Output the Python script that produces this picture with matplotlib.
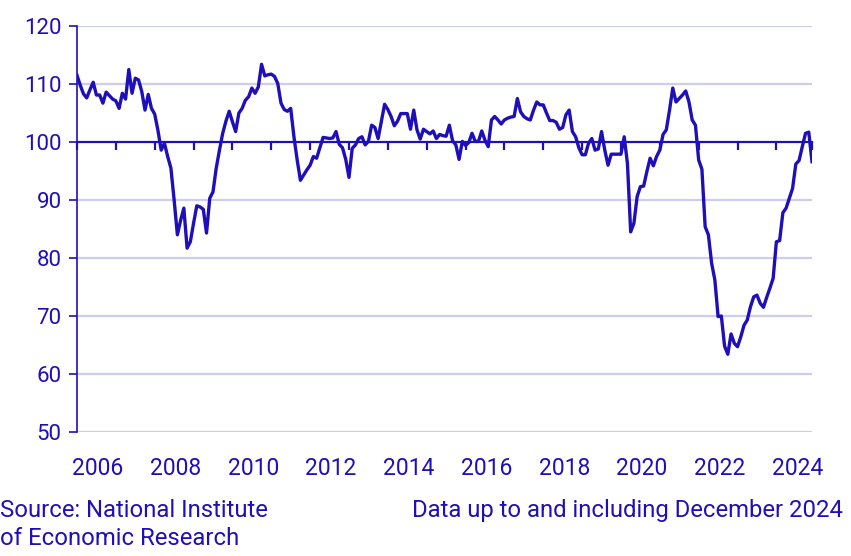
import numpy as np
import matplotlib
matplotlib.use("Agg")
import matplotlib.pyplot as plt

# Monthly index, Jan 2006 - Dec 2024
Y2006 = [111.5, 109.8, 108.3, 107.6, 109.0, 110.3, 108.1, 108.1, 106.7, 108.6, 108.0, 107.4]
Y2007 = [107.1, 105.8, 108.4, 107.4, 112.5, 108.4, 111.0, 110.7, 108.7, 105.5, 108.2, 105.8]
Y2008 = [104.8, 102.0, 98.6, 99.8, 97.5, 95.5, 90.0, 84.0, 86.5, 88.6, 81.7, 82.8]
Y2009 = [86.0, 89.0, 88.8, 88.4, 84.3, 90.3, 91.4, 95.5, 98.6, 101.5, 103.6, 105.3]
Y2010 = [103.5, 101.8, 105.0, 105.8, 107.2, 107.8, 109.3, 108.4, 109.5, 113.4, 111.4, 111.6]
Y2011 = [111.7, 111.3, 110.1, 106.7, 105.6, 105.3, 105.8, 100.9, 96.9, 93.4, 94.3, 95.2]
Y2012 = [96.0, 97.5, 97.2, 99.0, 100.8, 100.7, 100.6, 100.7, 101.8, 99.6, 99.0, 97.0]
Y2013 = [93.9, 98.9, 99.5, 100.6, 100.9, 99.5, 100.1, 102.9, 102.5, 100.6, 103.5, 106.5]
Y2014 = [105.6, 104.4, 102.8, 103.6, 104.9, 104.9, 104.9, 102.2, 105.5, 102.1, 100.5, 102.2]
Y2015 = [101.8, 101.4, 101.9, 100.6, 101.3, 101.1, 101.0, 102.9, 100.2, 99.5, 97.0, 100.1]
Y2016 = [99.4, 99.9, 101.5, 100.1, 100.1, 101.9, 100.3, 99.2, 103.8, 104.4, 103.8, 103.1]
Y2017 = [103.8, 104.1, 104.3, 104.4, 107.5, 105.2, 104.4, 104.0, 103.8, 105.5, 106.9, 106.4]
Y2018 = [106.4, 105.0, 103.7, 103.7, 103.4, 102.2, 102.5, 104.7, 105.5, 101.8, 100.9, 99.0]
Y2019 = [97.8, 97.8, 99.8, 100.6, 98.6, 98.8, 101.8, 98.6, 96.0, 97.9, 97.9, 97.9]
Y2020 = [97.9, 100.9, 96.3, 84.5, 86.0, 90.6, 92.3, 92.4, 94.9, 97.2, 95.9, 97.5]
Y2021 = [98.6, 101.3, 102.1, 105.5, 109.3, 106.9, 107.5, 108.1, 108.8, 106.9, 103.8, 102.9]
Y2022 = [96.9, 95.3, 85.4, 84.0, 79.1, 76.2, 69.9, 70.0, 64.8, 63.4, 66.9, 65.3]
Y2023 = [64.7, 66.4, 68.4, 69.3, 71.6, 73.3, 73.6, 72.2, 71.5, 73.2, 74.8, 76.5]
Y2024 = [82.8, 83.0, 87.8, 88.6, 90.3, 92.0, 96.2, 96.8, 99.2, 101.5, 101.7, 96.6]

YEARS = list(range(2006, 2025))
LABEL_YEARS = list(range(2006, 2025, 2))
Y_TICKS = [50, 60, 70, 80, 90, 100, 110, 120]

SOURCE = "Source: National Institute\nof Economic Research"
NOTE = "Data up to and including December 2024"

BLUE = "#1f0fb8"
GRID = "#cdcdee"

values = np.array(Y2006 + Y2007 + Y2008 + Y2009 + Y2010 + Y2011 + Y2012 + Y2013
                  + Y2014 + Y2015 + Y2016 + Y2017 + Y2018 + Y2019 + Y2020 + Y2021
                  + Y2022 + Y2023 + Y2024)
months = np.arange(len(values))

plt.rcParams["font.family"] = ["Roboto", "DejaVu Sans"]

fig = plt.figure(figsize=(8.51, 5.56), dpi=100)
ax = fig.add_axes([77 / 851, 1 - 432 / 556, (812 - 77) / 851, (432 - 26) / 556])

ax.set_xlim(0, months[-1])
ax.set_ylim(50, 120)

for y in Y_TICKS:
    if y != 100:
        ax.axhline(y, color=GRID, linewidth=1.6, zorder=1)

ax.plot(months, values, color=BLUE, linewidth=2.4, zorder=3, solid_joinstyle="round")

# x axis sits on the 100 line
for s in ["top", "right"]:
    ax.spines[s].set_visible(False)
ax.spines["bottom"].set_position(("data", 100))
ax.spines["bottom"].set_color(BLUE)
ax.spines["bottom"].set_linewidth(1.6)
ax.spines["bottom"].set_zorder(2)
ax.spines["left"].set_color(BLUE)
ax.spines["left"].set_linewidth(1.2)

year_starts = [12 * (y - 2006) for y in YEARS] + [months[-1]]
ax.set_xticks(year_starts)
ax.tick_params(axis="x", direction="out", length=6, width=1.6, color=BLUE,
               labelbottom=False)

ax.set_yticks(Y_TICKS)
ax.tick_params(axis="y", direction="out", length=6, width=1.2, color=BLUE,
               labelcolor=BLUE, labelsize=16, pad=5)

sec = ax.secondary_xaxis("bottom")
sec.spines["bottom"].set_visible(False)
sec.set_xticks([12 * (y - 2006) + 6.5 for y in LABEL_YEARS])
sec.set_xticklabels([str(y) for y in LABEL_YEARS])
sec.tick_params(axis="x", length=0, labelcolor=BLUE, labelsize=16.5, pad=18)

fig.text(0.0, 1 - 499 / 556, SOURCE, color=BLUE, fontsize=17.2, ha="left", va="top",
         linespacing=1.3)
fig.text(843 / 851, 1 - 499 / 556, NOTE, color=BLUE, fontsize=17.2, ha="right", va="top")

fig.savefig("out.png", dpi=100)
